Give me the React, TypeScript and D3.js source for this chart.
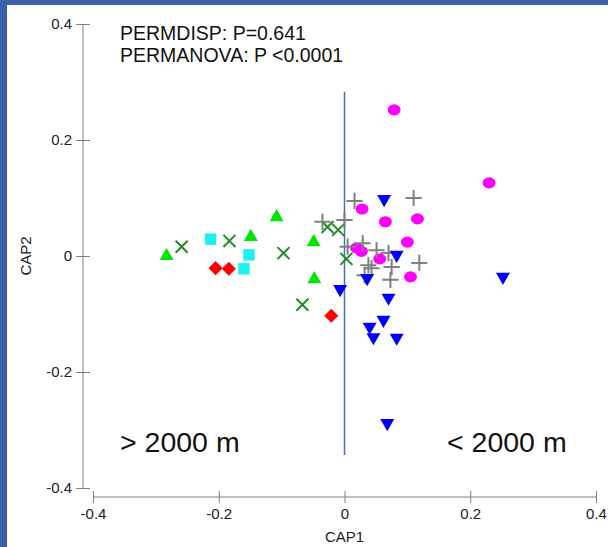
import React, { useEffect, useRef } from "react";
import * as d3 from "d3";

const W = 608;
const H = 547;

// CAP scores, one array per group
const greenTriangles = [
  [-0.283, 0.0], [-0.108, 0.067], [-0.149, 0.033], [-0.049, 0.024], [-0.048, -0.04],
];
const darkCrosses = [
  [-0.259, 0.016], [-0.183, 0.026], [-0.097, 0.005], [-0.067, -0.084],
  [-0.027, 0.05], [-0.01, 0.045], [0.003, -0.005],
];
const cyanSquares = [
  [-0.213, 0.029], [-0.152, 0.002], [-0.16, -0.022],
];
const redDiamonds = [
  [-0.205, -0.021], [-0.184, -0.022], [-0.021, -0.103],
];
const magentaCircles = [
  [0.079, 0.252], [0.23, 0.126], [0.028, 0.081], [0.065, 0.059], [0.116, 0.064],
  [0.1, 0.024], [0.019, 0.014], [0.027, 0.008], [0.056, -0.005], [0.105, -0.036],
];
const blueTriangles = [
  [0.063, 0.098], [0.083, 0.002], [0.036, -0.038], [-0.007, -0.057], [0.07, -0.072],
  [0.062, -0.11], [0.04, -0.122], [0.046, -0.14], [0.083, -0.141], [0.252, -0.036],
  [0.068, -0.288],
];
const greyPluses = [
  [0.016, 0.095], [0.11, 0.1], [-0.035, 0.059], [0.0, 0.062], [0.005, 0.016],
  [0.029, 0.022], [0.051, 0.01], [0.07, 0.005], [0.119, -0.012], [0.038, -0.016],
  [0.043, -0.021], [0.075, -0.019], [0.032, -0.033], [0.073, -0.041],
];

const xTicks = [-0.4, -0.2, 0, 0.2, 0.4];
const yTicks = [-0.4, -0.2, 0, 0.2, 0.4];
const divider = [0.283, -0.343];
const statLines = ["PERMDISP: P=0.641", "PERMANOVA: P <0.0001"];
const depthLabels = ["> 2000 m", "< 2000 m"];

const FONT = "Arial, 'Liberation Sans', sans-serif";

export default function App() {
  const xRef = useRef<SVGGElement>(null);
  const yRef = useRef<SVGGElement>(null);

  const x = d3.scaleLinear().domain([-0.4, 0.4]).range([93, 596]);
  const y = d3.scaleLinear().domain([-0.4, 0.4]).range([488, 24]);

  useEffect(() => {
    // plain hyphen for negatives, like the original
    const fmt = (d: any) => (d === 0 ? "0" : d.toFixed(1));
    const gx = d3.select(xRef.current);
    gx.selectAll("*").remove();
    gx.call(d3.axisBottom(x).tickValues(xTicks).tickFormat(fmt).tickSize(6).tickPadding(5) as any);
    gx.select(".domain").attr("stroke", "#808080").attr("d", `M${x(-0.4)},0H${x(0.4)}`);
    gx.selectAll(".tick line").attr("stroke", "#808080").attr("y1", -6);
    gx.selectAll(".tick text")
      .attr("fill", "#222")
      .attr("font-size", 15)
      .attr("font-family", FONT);

    const gy = d3.select(yRef.current);
    gy.selectAll("*").remove();
    gy.call(d3.axisLeft(y).tickValues(yTicks).tickFormat(fmt).tickSize(7).tickPadding(4) as any);
    gy.select(".domain").attr("stroke", "#808080").attr("d", `M0,${y(0.4)}V${y(-0.4)}`);
    gy.selectAll(".tick line").attr("stroke", "#808080").attr("x1", 7);
    gy.selectAll(".tick text")
      .attr("fill", "#222")
      .attr("font-size", 15)
      .attr("font-family", FONT);
  }, []);

  const tri = d3.symbol().type(d3.symbolTriangle).size(85)() as string;
  const sq = d3.symbol().type(d3.symbolSquare).size(130)() as string;
  const dia = d3.symbol().type(d3.symbolSquare).size(100)() as string;
  const circ = d3.symbol().type(d3.symbolCircle).size(105)() as string;
  const times = d3.symbol().type(d3.symbolTimes).size(96)() as string;
  const plus = d3.symbol().type(d3.symbolPlus).size(88)() as string;

  const pos = (d: number[]) => `translate(${x(d[0])},${y(d[1])})`;

  return (
    <svg
      width={W}
      height={H}
      style={{ position: "absolute", left: 0, top: 0, background: "#3a62ab" }}
    >
      <rect x={7} y={5} width={W - 7} height={H - 5} fill="#fff" />

      <g ref={yRef} transform="translate(83,0)" />
      <g ref={xRef} transform="translate(0,497)" />

      <text
        transform={`translate(31,${y(0)}) rotate(-90)`}
        textAnchor="middle"
        fontFamily={FONT}
        fontSize={15}
        fill="#222"
      >
        CAP2
      </text>
      <text x={x(0)} y={542} textAnchor="middle" fontFamily={FONT} fontSize={15} fill="#222">
        CAP1
      </text>

      {statLines.map((t, i) => (
        <text key={t} x={120} y={40 + i * 22} fontFamily={FONT} fontSize={19.5} fill="#111">
          {t}
        </text>
      ))}

      <line
        x1={x(0)}
        x2={x(0)}
        y1={y(divider[0])}
        y2={y(divider[1])}
        stroke="#4a70b8"
        strokeWidth={1.5}
      />

      <text x={120} y={452} fontFamily={FONT} fontSize={28.5} fill="#111">
        {depthLabels[0]}
      </text>
      <text x={447} y={452} fontFamily={FONT} fontSize={28.5} fill="#111">
        {depthLabels[1]}
      </text>

      {greenTriangles.map((d, i) => (
        <path key={"gt" + i} d={tri} transform={pos(d)} fill="#00e600" />
      ))}
      {darkCrosses.map((d, i) => (
        <path key={"dc" + i} d={times} transform={pos(d)} fill="none" stroke="#1e8c28" strokeWidth={2} />
      ))}
      {cyanSquares.map((d, i) => (
        <path key={"cs" + i} d={sq} transform={pos(d)} fill="#1ef0f0" />
      ))}
      {redDiamonds.map((d, i) => (
        <path key={"rd" + i} d={dia} transform={pos(d) + " rotate(45)"} fill="#ff0000" />
      ))}
      {magentaCircles.map((d, i) => (
        <path key={"mc" + i} d={circ} transform={pos(d) + " scale(1.12,0.96)"} fill="#ff00ff" />
      ))}
      {greyPluses.map((d, i) => (
        <path key={"gp" + i} d={plus} transform={pos(d)} fill="none" stroke="#808080" strokeWidth={2} />
      ))}
      {blueTriangles.map((d, i) => (
        <path key={"bt" + i} d={tri} transform={pos(d) + " rotate(180)"} fill="#0000ff" />
      ))}
    </svg>
  );
}
